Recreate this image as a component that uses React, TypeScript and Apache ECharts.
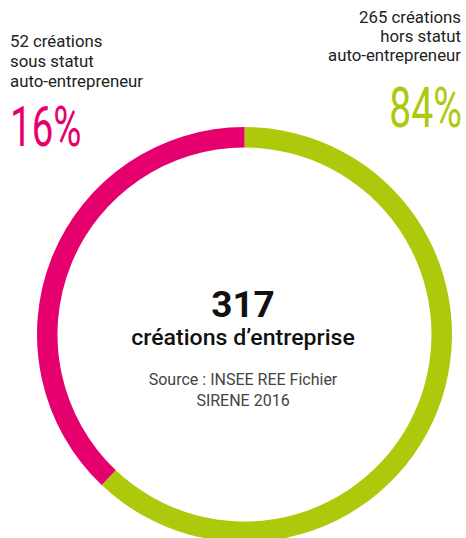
import React, { useEffect, useRef } from "react";
import * as echarts from "echarts";

// Data
const categories = ["hors statut auto-entrepreneur", "sous statut auto-entrepreneur"];
const counts = [265, 52];
const percentLabels = ["84%", "16%"];
const colors = ["#aec90c", "#e5006d"];
const totalLabel = "317";
const totalCaption = "créations d’entreprise";
const sourceLines = ["Source : INSEE REE Fichier", "SIRENE 2016"];
const leftLines = ["52 créations", "sous statut", "auto-entrepreneur"];
const rightLines = ["265 créations", "hors statut", "auto-entrepreneur"];
// the drawn pink arc is wider than its share (about 136.5 degrees)
const pinkMinAngle = 136.5;

export default function App() {
  const ref = useRef<HTMLDivElement>(null);
  useEffect(() => {
    if (!ref.current) return;
    const chart = echarts.init(ref.current, null, { renderer: "svg" });
    const font = "Roboto, 'Noto Sans', sans-serif";
    chart.setOption({
      animation: false,
      series: [
        {
          type: "pie",
          center: [244.5, 334.5],
          radius: [187, 207.5],
          startAngle: 90,
          clockwise: true,
          minAngle: pinkMinAngle,
          avoidLabelOverlap: false,
          label: { show: false },
          labelLine: { show: false },
          emphasis: { disabled: true },
          itemStyle: { borderWidth: 0 },
          data: categories.map((c, i) => ({ name: c, value: counts[i], itemStyle: { color: colors[i] } })),
        },
      ],
      graphic: [
        {
          type: "text",
          x: 10,
          y: 31.5,
          scaleX: 1.05,
          style: {
            text: leftLines.join("\n"),
            font: `400 16px ${font}`,
            lineHeight: 20,
            fill: "#222",
            textAlign: "left",
            textVerticalAlign: "top",
          },
        },
        {
          type: "text",
          x: 461,
          y: 8,
          scaleX: 1.05,
          style: {
            text: rightLines.join("\n"),
            font: `400 16px ${font}`,
            lineHeight: 19.2,
            fill: "#222",
            textAlign: "right",
            textVerticalAlign: "top",
          },
        },
        {
          type: "text",
          x: 10,
          y: 127,
          scaleX: 0.7,
          style: {
            text: percentLabels[1],
            font: `400 55px ${font}`,
            fill: colors[1],
            textAlign: "left",
            textVerticalAlign: "middle",
          },
        },
        {
          type: "text",
          x: 462,
          y: 108,
          scaleX: 0.7,
          style: {
            text: percentLabels[0],
            font: `400 56px ${font}`,
            fill: colors[0],
            textAlign: "right",
            textVerticalAlign: "middle",
          },
        },
        {
          type: "text",
          x: 243,
          y: 304.5,
          style: {
            text: totalLabel,
            font: `700 37px ${font}`,
            fill: "#111",
            textAlign: "center",
            textVerticalAlign: "middle",
          },
        },
        {
          type: "text",
          x: 243,
          y: 338,
          scaleX: 1.05,
          style: {
            text: totalCaption,
            font: `500 22px ${font}`,
            fill: "#111",
            textAlign: "center",
            textVerticalAlign: "middle",
          },
        },
        {
          type: "text",
          x: 243,
          y: 369,
          style: {
            text: sourceLines.join("\n"),
            font: `400 16px ${font}`,
            lineHeight: 21,
            fill: "#444",
            textAlign: "center",
            textVerticalAlign: "top",
          },
        },
      ],
    });
    return () => chart.dispose();
  }, []);
  return (
    <div
      ref={ref}
      style={{ position: "fixed", left: 0, top: 0, width: 466, height: 538, background: "#fff" }}
    />
  );
}
